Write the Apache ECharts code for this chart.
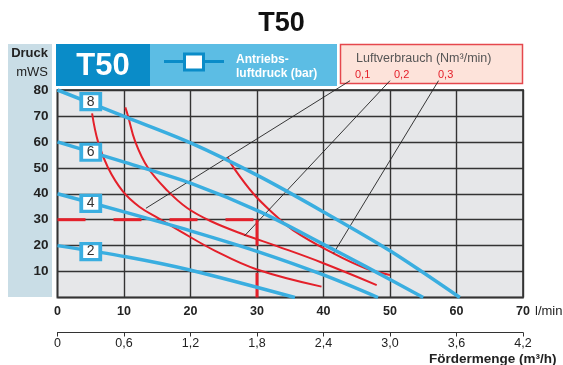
<!DOCTYPE html>
<html>
<head>
<meta charset="utf-8">
<script src="https://cdn.jsdelivr.net/npm/echarts@6/dist/echarts.min.js"></script>
<style>
  html, body { margin: 0; padding: 0; background: #fff; }
  #chart { width: 563px; height: 365px; }
</style>
</head>
<body>
<div id="chart"></div>
<script>
// Antriebsluftdruck (bar) curves: [l/min, mWS]
const bar8 = [[0, 80], [10.3, 69.5], [20.1, 59.5], [30.5, 46.5], [40, 33], [50, 18], [60.5, 0]];
const bar6 = [[0, 60], [10.3, 52], [20.1, 44], [30.5, 33], [40, 20.5], [46.3, 12], [55, 0]];
const bar4 = [[0, 40], [10.3, 32.8], [20, 25.7], [30, 17.8], [40, 8.7], [48.2, 0]];
const bar2 = [[0, 20], [10.3, 15.7], [19.9, 10.6], [35.7, 0]];

const barNames = ['8', '6', '4', '2'];
const barLabelPos = [[5, 75.5], [5, 56], [5, 36.3], [5, 17.7]];

// Luftverbrauch (Nm3/min) curves
const air01 = [[5.2, 71], [6.1, 60], [7.6, 50], [9.8, 41], [12.3, 35], [15.4, 30.2], [18.5, 25.5], [23.7, 18], [30, 10.8], [39.7, 4.2]];
const air02 = [[10.2, 73.3], [10.6, 70], [11.7, 60], [13.6, 50], [16.6, 41], [19.5, 34.5], [23, 29.5], [28, 24.3], [33, 19.8], [39.7, 13.5], [48, 4.8]];
const air03 = [[25.6, 54], [26.5, 50], [29.4, 40.2], [32.2, 33], [35.4, 26], [41.5, 17], [46.3, 11.3], [50, 8.7]];
const airNames = ['0,1', '0,2', '0,3'];

// pointer lines from legend labels to curves
const ptr01 = [[44, 83.6], [13.3, 34.4]];
const ptr02 = [[50, 83.6], [28.1, 23.7]];
const ptr03 = [[57.3, 83.6], [41.5, 17]];

// operating point 30 l/min @ 30 mWS
const opH = [[0, 30], [30, 30]];
const opV = [[30, 30], [30, 0]];

const flowMax = 70;   // l/min
const headMax = 80;   // mWS
const m3hMax = 4.2;   // m3/h

const blue = '#3aaee0';
const red = '#e4202a';
const font = 'Liberation Sans';

const chart = echarts.init(document.getElementById('chart'));

function blueLine(data) {
    return {
        type: 'line', data: data, smooth: 0.3, symbol: 'none', z: 4,
        lineStyle: { color: blue, width: 3.5 }
    };
}
function redLine(data) {
    return {
        type: 'line', data: data, smooth: 0.4, symbol: 'none', z: 3,
        lineStyle: { color: red, width: 2 }
    };
}
function pointer(data) {
    return {
        type: 'line', data: data, symbol: 'none', clip: false, z: 3,
        lineStyle: { color: '#222', width: 0.9 }
    };
}

chart.setOption({
    animation: false,
    title: {
        text: 'T50', left: 'center', top: 5,
        textStyle: { fontFamily: font, fontSize: 27, fontWeight: 900, color: '#111' }
    },
    grid: [
        { left: 57.5, right: 40, top: 90, bottom: 67.5, show: true, backgroundColor: '#e6e7e9', borderColor: '#555', borderWidth: 2 },
        { left: 57.5, right: 40, top: 300, bottom: 32.5 }
    ],
    xAxis: [{
        type: 'value', min: 0, max: flowMax, interval: 10,
        axisLine: { show: false }, axisTick: { show: false },
        splitLine: { lineStyle: { color: '#333', width: 1.4 } },
        axisLabel: { margin: 8, fontFamily: font, fontSize: 12.5, fontWeight: 'bold', color: '#222' }
    }, {
        type: 'value', gridIndex: 1, min: 0, max: m3hMax, interval: 0.6,
        axisLine: { show: true, lineStyle: { color: '#333', width: 1 } },
        axisTick: { show: true, length: 4, lineStyle: { color: '#333' } },
        splitLine: { show: false },
        axisLabel: {
            margin: 5, fontFamily: font, fontSize: 12.5, color: '#222',
            formatter: v => v === 0 ? '0' : v.toFixed(1).replace('.', ',')
        }
    }],
    yAxis: [{
        type: 'value', min: 0, max: headMax, interval: 10,
        axisLine: { show: false }, axisTick: { show: false },
        splitLine: { lineStyle: { color: '#333', width: 1.4 } },
        axisLabel: {
            margin: 9, fontFamily: font, fontSize: 13.5, fontWeight: 'bold', color: '#222',
            formatter: v => v === 0 ? '' : String(v)
        }
    }, {
        type: 'value', gridIndex: 1, show: false, min: 0, max: 1
    }],
    series: [
        redLine(air01), redLine(air02), redLine(air03),
        pointer(ptr01), pointer(ptr02), pointer(ptr03),
        {
            type: 'line', data: opH, symbol: 'none', z: 3,
            lineStyle: { color: red, width: 3, type: [28, 28] }
        },
        {
            type: 'line', data: opV, symbol: 'none', z: 3,
            lineStyle: { color: red, width: 3, type: [26, 27] }
        },
        blueLine(bar8), blueLine(bar6), blueLine(bar4), blueLine(bar2),
        {
            type: 'scatter', z: 6,
            data: barLabelPos.map((p, i) => ({ value: p, name: barNames[i] })),
            symbol: 'rect', symbolSize: [19, 16],
            itemStyle: { color: '#fff', borderColor: blue, borderWidth: 3.5, opacity: 1 },
            label: {
                show: true, position: 'inside', formatter: p => p.name,
                fontFamily: font, fontSize: 14, color: '#333'
            }
        }
    ],
    graphic: [
        // left panel
        { type: 'rect', z: -10, shape: { x: 8, y: 44, width: 44, height: 253 }, style: { fill: '#c9dde6' } },
        { type: 'text', x: 48, y: 53, style: { text: 'Druck', align: 'right', verticalAlign: 'middle', font: 'bold 13px "Liberation Sans"', fill: '#222' } },
        { type: 'text', x: 48, y: 72, style: { text: 'mWS', align: 'right', verticalAlign: 'middle', font: '13px "Liberation Sans"', fill: '#222' } },
        // model box
        { type: 'rect', shape: { x: 56, y: 44, width: 94, height: 42 }, style: { fill: '#0a8cc8' } },
        { type: 'text', x: 103, y: 66, style: { text: 'T50', align: 'center', verticalAlign: 'middle', font: 'bold 31px "Liberation Sans"', fill: '#fff' } },
        // legend box
        { type: 'rect', shape: { x: 150, y: 44, width: 187, height: 42 }, style: { fill: '#5cbde4' } },
        { type: 'line', shape: { x1: 164, y1: 61.5, x2: 224, y2: 61.5 }, style: { stroke: '#0a8cc8', lineWidth: 3 } },
        { type: 'rect', shape: { x: 184.5, y: 54, width: 19, height: 16 }, style: { fill: '#fff', stroke: '#0a8cc8', lineWidth: 3 } },
        { type: 'text', x: 236, y: 60, style: { text: 'Antriebs-', verticalAlign: 'middle', font: 'bold 12px "Liberation Sans"', fill: '#fff' } },
        { type: 'text', x: 236, y: 74, style: { text: 'luftdruck (bar)', verticalAlign: 'middle', font: 'bold 12px "Liberation Sans"', fill: '#fff' } },
        // air consumption box
        { type: 'rect', shape: { x: 340.5, y: 44.5, width: 182, height: 39 }, style: { fill: '#fde3da', stroke: '#e5474d', lineWidth: 1.5 } },
        { type: 'text', x: 356, y: 59, style: { text: 'Luftverbrauch (Nm³/min)', verticalAlign: 'middle', font: '12.5px "Liberation Sans"', fill: '#555' } },
        { type: 'text', x: 355, y: 75, style: { text: airNames[0], verticalAlign: 'middle', font: '11px "Liberation Sans"', fill: red } },
        { type: 'text', x: 394, y: 75, style: { text: airNames[1], verticalAlign: 'middle', font: '11px "Liberation Sans"', fill: red } },
        { type: 'text', x: 438, y: 75, style: { text: airNames[2], verticalAlign: 'middle', font: '11px "Liberation Sans"', fill: red } },
        // units
        { type: 'text', x: 535, y: 311, style: { text: 'l/min', verticalAlign: 'middle', font: '13px "Liberation Sans"', fill: '#222' } },
        { type: 'text', x: 429, y: 359, style: { text: 'Fördermenge (m³/h)', verticalAlign: 'middle', font: 'bold 13.5px "Liberation Sans"', fill: '#222' } }
    ]
});
</script>
</body>
</html>
